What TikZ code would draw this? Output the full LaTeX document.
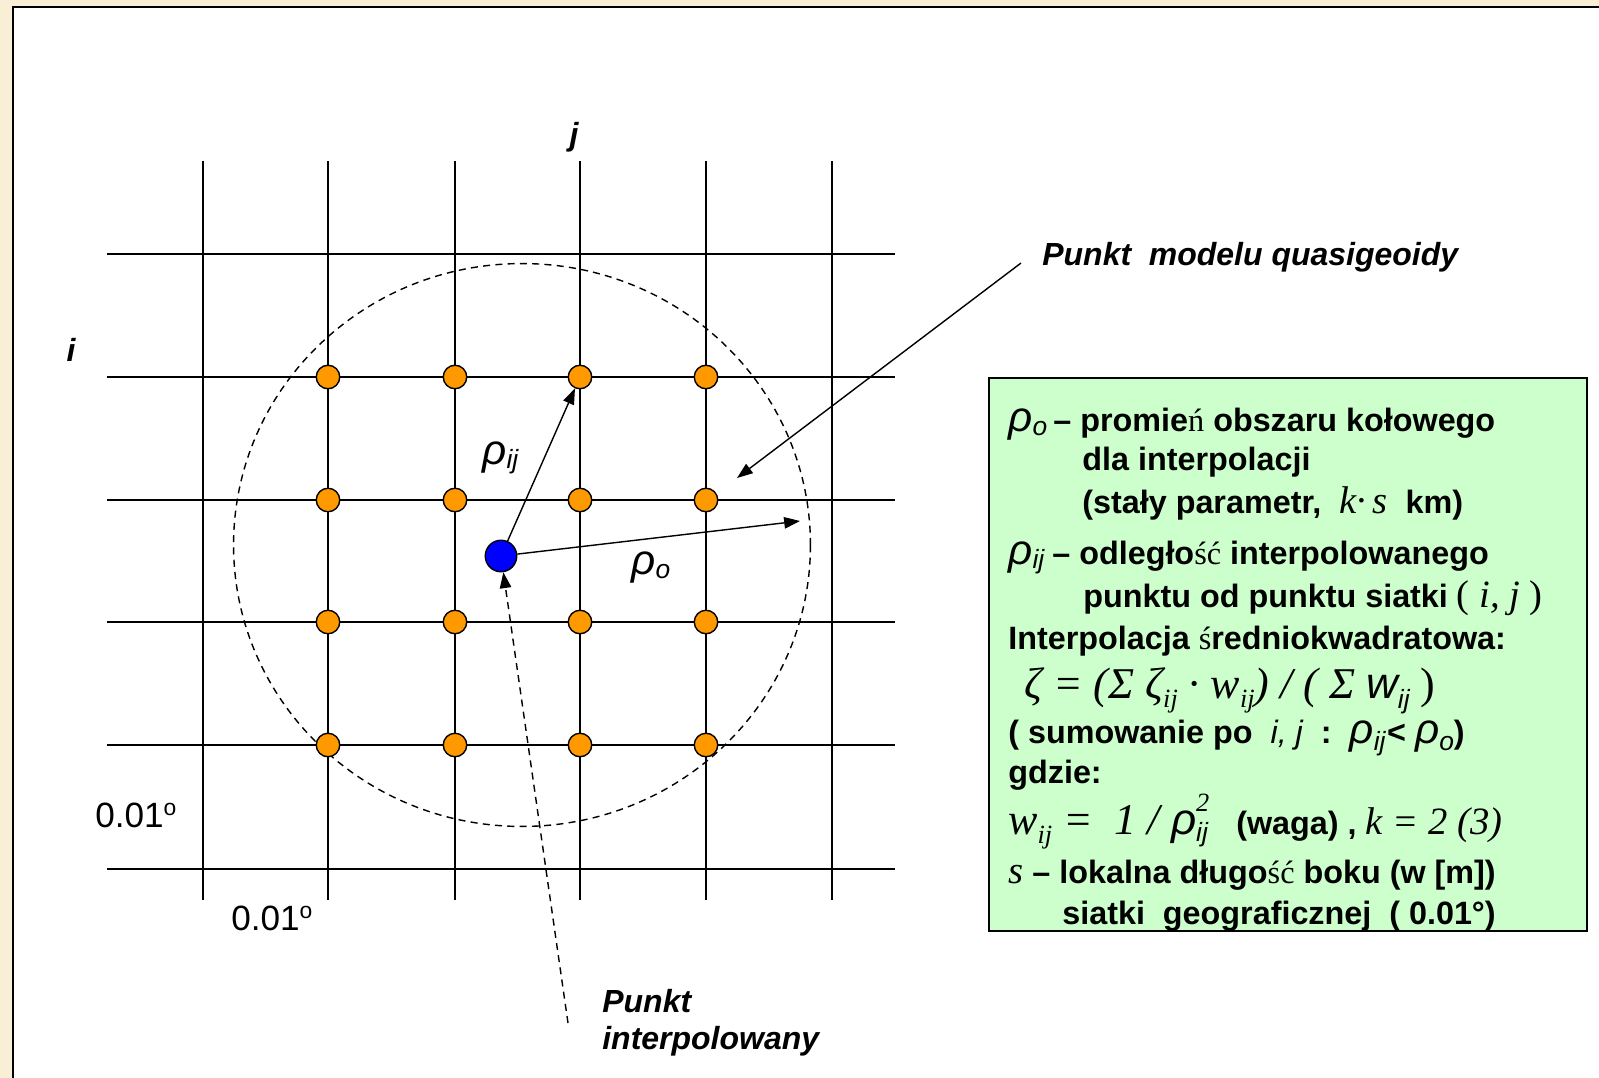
\documentclass[tikz,border=0pt]{standalone}
\usepackage{fontspec}
\setmainfont{Liberation Sans}
\newfontfamily\tms{Liberation Serif}
\usetikzlibrary{arrows.meta, positioning}
\definecolor{parchment}{RGB}{249,239,214}
\definecolor{dotorange}{RGB}{255,153,0}
\definecolor{dotblue}{RGB}{0,0,255}
\definecolor{panelgreen}{RGB}{204,255,204}
% small helpers for the formula text
\newcommand{\lowsub}[1]{\raisebox{-0.45ex}{\fontsize{15}{15}\selectfont #1}}
\newcommand{\rhoof}[1]{{\mdseries\itshape\fontsize{24}{24}\selectfont ρ}{\mdseries\itshape\lowsub{#1}}}
\newcommand{\serifch}[1]{{\tms\mdseries\upshape #1}}
\newcommand{\dego}{\raisebox{6.8pt}{\fontsize{13}{13}\selectfont o}}
\tikzset{
  gridline/.style={draw=black, line width=1.1pt},
  gridpt/.style={circle, draw=black, line width=0.8pt, fill=dotorange,
    minimum size=0.47cm, inner sep=0pt},
  querypt/.style={circle, draw=black, line width=0.8pt, fill=dotblue,
    minimum size=0.63cm, inner sep=0pt},
  radarrow/.style={draw=black, line width=0.8pt, -{Triangle[length=9pt,width=6.5pt]}},
  rangecirc/.style={draw=black, line width=0.8pt, dash pattern=on 4pt off 3pt},
  axislbl/.style={font=\fontsize{18.2}{18.2}\selectfont\bfseries\itshape, inner sep=0pt},
  steplbl/.style={font=\fontsize{20}{20}\selectfont, inner sep=0pt, anchor=base west},
  rholbl/.style={inner sep=0pt, anchor=base west},
  calloutlbl/.style={font=\fontsize{18.2}{21}\selectfont\bfseries\itshape, inner sep=0pt,
    anchor=base west, align=left},
  panel/.style={draw=black, line width=1.1pt, fill=panelgreen, anchor=north west,
    minimum width=11.96cm, minimum height=11.06cm, inner sep=0pt},
  paneltxt/.style={font=\fontsize{18.4}{18.4}\selectfont\bfseries, inner sep=0pt, anchor=base west}
}
\begin{document}
\begin{tikzpicture}[x=0.02cm, y=-0.02cm]
  \useasboundingbox (0,0) rectangle (1599,1078);
  \fill[parchment] (0,0) rectangle (1599,1078);
  \draw[fill=white, line width=1.2pt] (13,7) rectangle (1630,1100);

  % grid of the model
  \draw[gridline] (203,161) -- (203,900);
  \draw[gridline] (328,161) -- (328,900);
  \draw[gridline] (455,161) -- (455,900);
  \draw[gridline] (580,161) -- (580,900);
  \draw[gridline] (706,161) -- (706,900);
  \draw[gridline] (832,161) -- (832,900);
  \draw[gridline] (107,254) -- (895,254);
  \draw[gridline] (107,377) -- (895,377);
  \draw[gridline] (107,500) -- (895,500);
  \draw[gridline] (107,622) -- (895,622);
  \draw[gridline] (107,745) -- (895,745);
  \draw[gridline] (107,869) -- (895,869);

  \node[axislbl] (jlbl) at (574,137) {j};
  \node[axislbl] (ilbl) at (71,350) {i};
  \node[steplbl] (dy) at (95,827) {0.01\dego};
  \node[steplbl] (dx) at (231,930) {0.01\dego};

  % search radius
  \draw[rangecirc] (522,545) ellipse [x radius=5.77cm, y radius=5.63cm];

  % grid points
  \node[gridpt] (g22) at (328,377) {};
  \node[gridpt] (g23) at (455,377) {};
  \node[gridpt] (g24) at (580,377) {};
  \node[gridpt] (g25) at (706,377) {};
  \node[gridpt] (g32) at (328,500) {};
  \node[gridpt] (g33) at (455,500) {};
  \node[gridpt] (g34) at (580,500) {};
  \node[gridpt] (g35) at (706,500) {};
  \node[gridpt] (g42) at (328,622) {};
  \node[gridpt] (g43) at (455,622) {};
  \node[gridpt] (g44) at (580,622) {};
  \node[gridpt] (g45) at (706,622) {};
  \node[gridpt] (g52) at (328,745) {};
  \node[gridpt] (g53) at (455,745) {};
  \node[gridpt] (g54) at (580,745) {};
  \node[gridpt] (g55) at (706,745) {};

  \node[querypt] (qp) at (501,556) {};
  \coordinate (rim) at (800,521);
  \draw[radarrow] (qp) -- (g24);
  \draw[radarrow] (qp) -- (rim);
  \node[rholbl] (rhoij) at (482,464) {\rhoof{ij}};
  \node[rholbl] (rhoo) at (631,574) {\rhoof{o}};

  % callouts
  \node[calloutlbl] (qglbl) at (1042,265) {Punkt\ \ modelu quasigeoidy};
  \coordinate (qgtail) at (1021,263);
  \coordinate (qghead) at (737,478);
  \draw[radarrow] (qgtail) -- (qghead);
  \node[calloutlbl] (iplbl) at (602,1049) {Punkt\\interpolowany};
  \coordinate (iptail) at (568,1023);
  \draw[radarrow, dash pattern=on 4pt off 3pt] (iptail) -- (qp);

  % legend panel
  \node[panel] (legend) at (988,377) {};
  \node[rholbl] (l1a) at (1008,431) {\rhoof{o}};
  \node[paneltxt] (l1) at (1053,431) {– promie\serifch{ń} obszaru kołowego};
  \node[paneltxt] (l2) at (1082,470) {dla interpolacji};
  \node[paneltxt] (l3) at (1082,513) {(stały parametr,\ \ {\tms\mdseries\itshape\fontsize{22}{22}\selectfont k·\,s}\ \ km)};
  \node[rholbl] (l4a) at (1008,564) {\rhoof{ij}};
  \node[paneltxt] (l4) at (1052,564) {– odległo\serifch{ść} interpolowanego};
  \node[paneltxt] (l5) at (1083,607) {punktu od punktu siatki {\tms\mdseries\fontsize{22}{22}\selectfont ( \textit{i, j} )}};
  \node[paneltxt] (l6) at (1008,649) {Interpolacja \serifch{ś}redniokwadratowa:};
  \node[paneltxt] (l7) at (1024,698) {{\tms\mdseries\itshape\fontsize{25}{25}\selectfont ζ = (Σ ζ\lowsub{ij} · w\lowsub{ij}) / ( Σ }{\mdseries\itshape\fontsize{25}{25}\selectfont w\lowsub{ij}}{\tms\mdseries\fontsize{25}{25}\selectfont\ )}};
  \node[paneltxt] (l8) at (1008,743) {( sumowanie po\ \ {\mdseries\itshape i, j}\ \ :\ \ \rhoof{ij}\kern1pt<\ \rhoof{o})};
  \node[paneltxt] (l9) at (1008,783) {gdzie:};
  \node[paneltxt] (l10) at (1008,834) {{\tms\mdseries\itshape\fontsize{25}{25}\selectfont w\lowsub{ij} =\ \ 1 / }{\mdseries\itshape\fontsize{25}{25}\selectfont ρ}\rlap{\lowsub{\mdseries\itshape ij}}\raisebox{1.3ex}{\tms\mdseries\itshape\fontsize{15}{15}\selectfont 2}\ \ \ (waga) , {\tms\mdseries\itshape\fontsize{22}{22}\selectfont k = 2 (3)}};
  \node[paneltxt] (l11) at (1008,883) {{\tms\mdseries\itshape\fontsize{22}{22}\selectfont s} – lokalna długo\serifch{ść} boku (w [m])};
  \node[paneltxt] (l12) at (1062,924) {siatki\ \ geograficznej\ \ ( 0.01°)};
\end{tikzpicture}
\end{document}
